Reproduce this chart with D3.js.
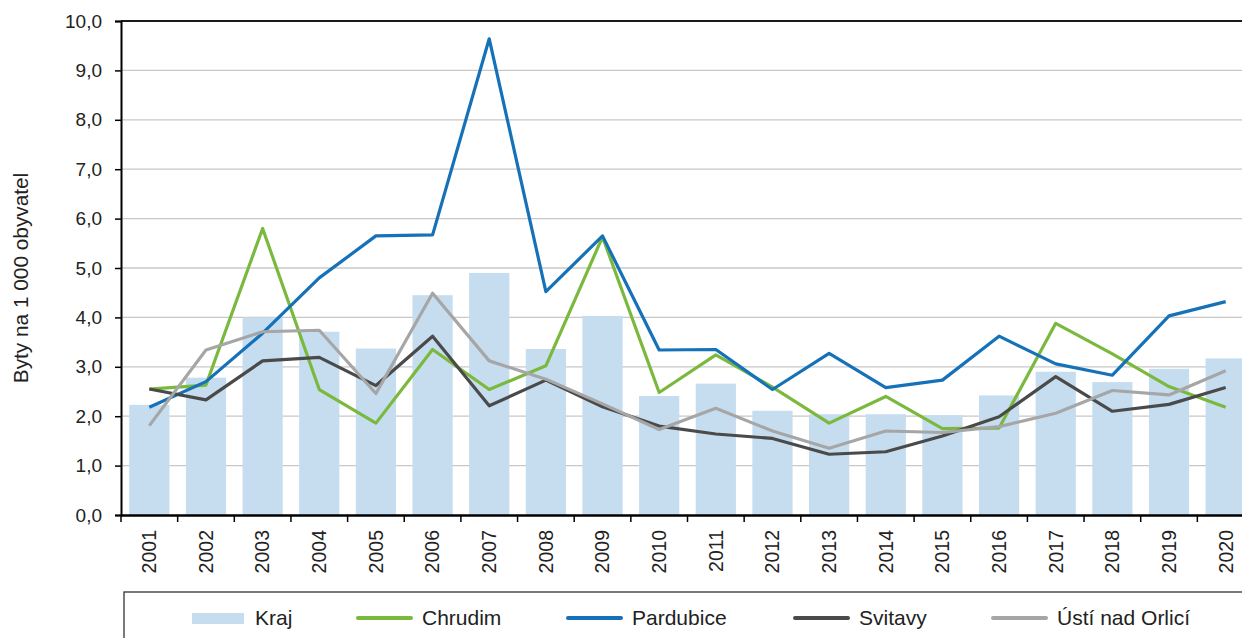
<!DOCTYPE html>
<html>
<head>
<meta charset="utf-8">
<script src="https://cdn.jsdelivr.net/npm/d3@7"></script>
<style>
  body { margin: 0; background: #fff; overflow: hidden; }
  svg { display: block; font-family: "Liberation Sans", Arial, sans-serif; }
</style>
</head>
<body>
<div id="chart"></div>
<script>
const years = ["2001","2002","2003","2004","2005","2006","2007","2008","2009","2010",
  "2011","2012","2013","2014","2015","2016","2017","2018","2019","2020"];
const kraj = [2.23,2.78,4.0,3.71,3.37,4.45,4.9,3.36,4.03,2.41,2.66,2.11,2.04,2.04,2.02,2.42,2.9,2.69,2.96,3.17];
const chrudim = [2.55,2.63,5.8,2.54,1.86,3.35,2.54,3.02,5.63,2.48,3.24,2.59,1.86,2.4,1.75,1.76,3.88,3.26,2.6,2.18];
const pardubice = [2.18,2.7,3.68,4.8,5.65,5.67,9.64,4.52,5.65,3.34,3.35,2.54,3.27,2.58,2.73,3.62,3.06,2.83,4.03,4.32];
const svitavy = [2.55,2.33,3.12,3.19,2.62,3.62,2.21,2.73,2.19,1.8,1.64,1.55,1.23,1.28,1.6,1.99,2.8,2.1,2.24,2.58];
const usti = [1.81,3.34,3.71,3.74,2.46,4.49,3.12,2.75,2.25,1.73,2.16,1.7,1.35,1.7,1.67,1.79,2.06,2.52,2.43,2.92];
const yTicks = [0,1,2,3,4,5,6,7,8,9,10];

const lineSeries = [
  { name: "Chrudim", values: chrudim, color: "#7ab93d" },
  { name: "Pardubice", values: pardubice, color: "#1571b8" },
  { name: "Svitavy", values: svitavy, color: "#4a4a4a" },
  { name: "Ústí nad Orlicí", values: usti, color: "#a6a6a6" }
];
const barColor = "#c6ddf0";

const width = 1242, height = 638;
const margin = { left: 121, top: 21, right: -12, bottom: 123 };

const svg = d3.select("#chart").append("svg").attr("width", width).attr("height", height);

const x = d3.scaleBand().domain(years)
  .range([margin.left, width - margin.right]).paddingInner(0.29).paddingOuter(0.145);
const xc = d3.scaleBand().domain(years).range([margin.left, width - margin.right]);
const y = d3.scaleLinear().domain([0, 10]).range([height - margin.bottom, margin.top]);

// gridlines
svg.append("g")
  .selectAll("line")
  .data(yTicks.slice(1))
  .join("line")
  .attr("x1", margin.left).attr("x2", width)
  .attr("y1", d => y(d)).attr("y2", d => y(d))
  .attr("stroke", d => d === 10 ? "#1a1a1a" : "#c8c8c8")
  .attr("stroke-width", d => d === 10 ? 2 : 1.3);

// bars
svg.append("g")
  .selectAll("rect")
  .data(kraj)
  .join("rect")
  .attr("x", (d, i) => x(years[i]))
  .attr("y", d => y(d))
  .attr("width", x.bandwidth())
  .attr("height", d => y(0) - y(d))
  .attr("fill", barColor);

// lines
const line = d3.line().x((d, i) => xc(years[i]) + xc.bandwidth() / 2).y(d => y(d));
svg.append("g")
  .selectAll("path")
  .data(lineSeries)
  .join("path")
  .attr("d", d => line(d.values))
  .attr("fill", "none")
  .attr("stroke", d => d.color)
  .attr("stroke-width", 3.2)
  .attr("stroke-linejoin", "round");

// y axis
const yAxis = svg.append("g")
  .attr("transform", `translate(${margin.left},0)`)
  .call(d3.axisLeft(y).tickValues(yTicks).tickSize(6).tickPadding(13)
    .tickFormat(d => d3.format(".1f")(d).replace(".", ",")));
yAxis.select(".domain").attr("stroke", "#000").attr("stroke-width", 2);
yAxis.selectAll(".tick line").attr("stroke", "#000").attr("stroke-width", 1.5);
yAxis.selectAll("text").attr("font-size", 19).attr("fill", "#222");

// x axis
const xAxis = svg.append("g")
  .attr("transform", `translate(0,${y(0)})`)
  .call(d3.axisBottom(xc).tickSize(0).tickPadding(0));
xAxis.select(".domain").attr("stroke", "#000").attr("stroke-width", 2.5);
xAxis.selectAll(".tick text")
  .attr("font-size", 19.5).attr("fill", "#222")
  .attr("transform", "rotate(-90)")
  .attr("text-anchor", "end")
  .attr("x", -15).attr("y", 0).attr("dy", "0.35em");
// category separators
svg.append("g")
  .selectAll("line")
  .data(years)
  .join("line")
  .attr("x1", d => xc(d)).attr("x2", d => xc(d))
  .attr("y1", y(0)).attr("y2", y(0) + 7)
  .attr("stroke", "#000").attr("stroke-width", 1.5);

// y title
svg.append("text")
  .attr("transform", `translate(28,278) rotate(-90)`)
  .attr("text-anchor", "middle")
  .attr("font-size", 20.8).attr("fill", "#222")
  .text("Byty na 1 000 obyvatel");

// legend
svg.append("rect")
  .attr("x", 124).attr("y", 592).attr("width", 1140).attr("height", 60)
  .attr("fill", "none").attr("stroke", "#333").attr("stroke-width", 1.3);

const legendY = 618;
const lg = svg.append("g");
lg.append("rect").attr("x", 192).attr("y", legendY - 5).attr("width", 52).attr("height", 11).attr("fill", barColor);
lg.append("text").attr("x", 255).attr("y", legendY).attr("dy", "0.35em")
  .attr("font-size", 21).attr("fill", "#222").text("Kraj");
const legendX = [358, 568, 795, 993];
lineSeries.forEach((s, i) => {
  lg.append("line").attr("x1", legendX[i]).attr("x2", legendX[i] + 53)
    .attr("y1", legendY).attr("y2", legendY)
    .attr("stroke", s.color).attr("stroke-width", 4).attr("stroke-linecap", "round");
  lg.append("text").attr("x", legendX[i] + 64).attr("y", legendY).attr("dy", "0.35em")
    .attr("font-size", 21).attr("fill", "#222").text(s.name);
});
</script>
</body>
</html>
